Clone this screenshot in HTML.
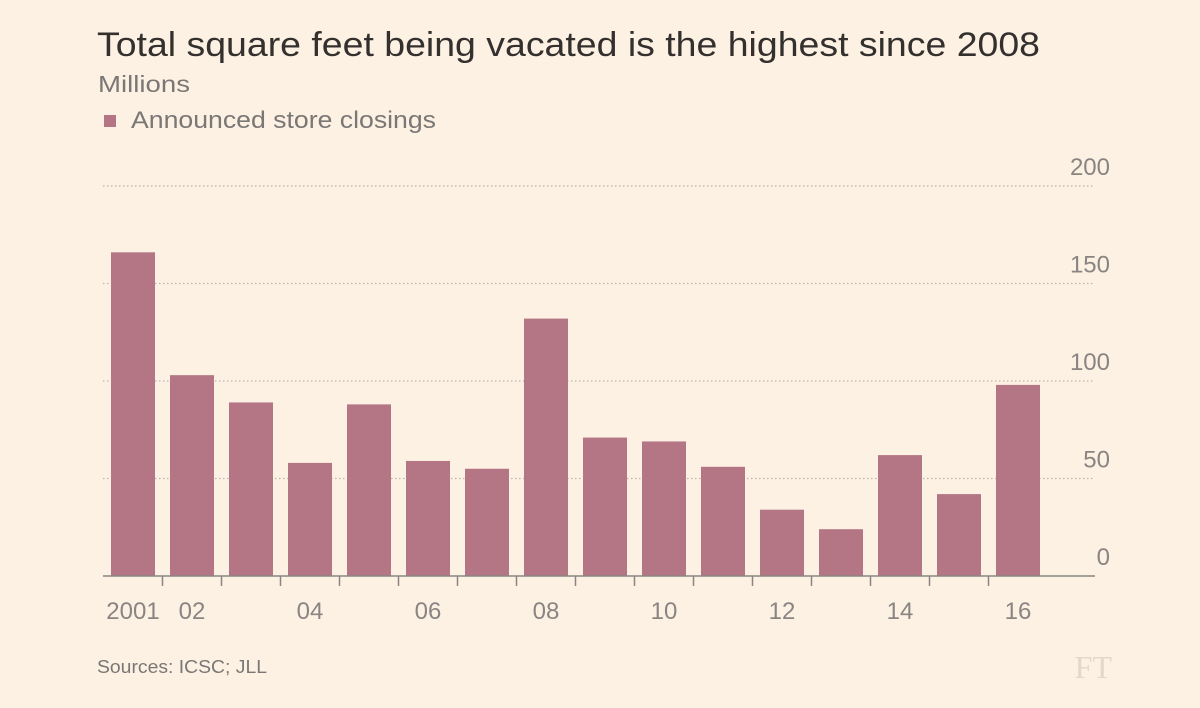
<!DOCTYPE html>
<html><head><meta charset="utf-8"><style>
html,body{margin:0;padding:0;background:#fdf1e4;width:1200px;height:708px;overflow:hidden;font-family:"Liberation Sans",sans-serif}
</style></head><body>
<svg width="1200" height="708">
<rect width="1200" height="708" fill="#fdf1e4"/>
<text x="97" y="56" font-size="34" fill="#33302e" textLength="943" lengthAdjust="spacingAndGlyphs">Total square feet being vacated is the highest since 2008</text>
<text x="98" y="92" font-size="23" fill="#7a7775" textLength="92" lengthAdjust="spacingAndGlyphs">Millions</text>
<rect x="104" y="115" width="12" height="12" fill="#b47585"/>
<text x="131" y="128" font-size="24" fill="#7a7775" textLength="305" lengthAdjust="spacingAndGlyphs">Announced store closings</text>
<g id="grid"></g><g id="bars"></g><g id="xaxis"></g>
<text x="97" y="673" font-size="18" fill="#7a7775" textLength="170" lengthAdjust="spacingAndGlyphs">Sources: ICSC; JLL</text>
<text x="1112" y="678" font-size="32" fill="#e3d8cc" text-anchor="end" font-family="Liberation Serif,serif">FT</text>
</svg>
<script>
const years=['2001','02','03','04','05','06','07','08','09','10','11','12','13','14','15','16'];
const values=[166,103,89,58,88,59,55,132,71,69,56,34,24,62,42,98];
const yTicks=[0,50,100,150,200];
const xLabelShow=['2001','02','04','06','08','10','12','14','16'];
const ns='http://www.w3.org/2000/svg';
const y0=576,yScale=1.95,x0=111,step=59,bw=44;
const Y=v=>y0-v*yScale, X=i=>x0+i*step;
function mk(t,a,p){const e=document.createElementNS(ns,t);for(const k in a)e.setAttribute(k,a[k]);p.appendChild(e);return e;}
const g=document.getElementById('grid'),b=document.getElementById('bars'),xa=document.getElementById('xaxis');
yTicks.forEach(v=>{
 if(v>0){const l=mk('line',{x1:103,x2:1095,y1:Y(v),y2:Y(v),stroke:'#bdb5ad','stroke-dasharray':'1.5,2.5','stroke-width':1.3},g);
 
 }
 const t=mk('text',{x:1110,y:Y(v)-11,'font-size':24,fill:'#8a8582','text-anchor':'end'},g);t.textContent=v;
 
 
});
values.forEach((v,i)=>{
 const r=mk('rect',{x:X(i),y:Y(v),width:bw,height:v*yScale,fill:'#b47585'},b);
 
 
 if(i>0){const tk=mk('line',{x1:X(i)-7.5,x2:X(i)-7.5,y1:y0,y2:y0+10,stroke:'#8a8582','stroke-width':1.5},xa);
 
 }
 if(xLabelShow.includes(years[i])){const t=mk('text',{x:X(i)+bw/2,y:619,'font-size':24,fill:'#8a8582','text-anchor':'middle'},xa);t.textContent=years[i];
 
 }
});
const ax=mk('line',{x1:103,x2:1095,y1:y0,y2:y0,stroke:'#8a8582','stroke-width':1.5},xa);


</script>
</body></html>
